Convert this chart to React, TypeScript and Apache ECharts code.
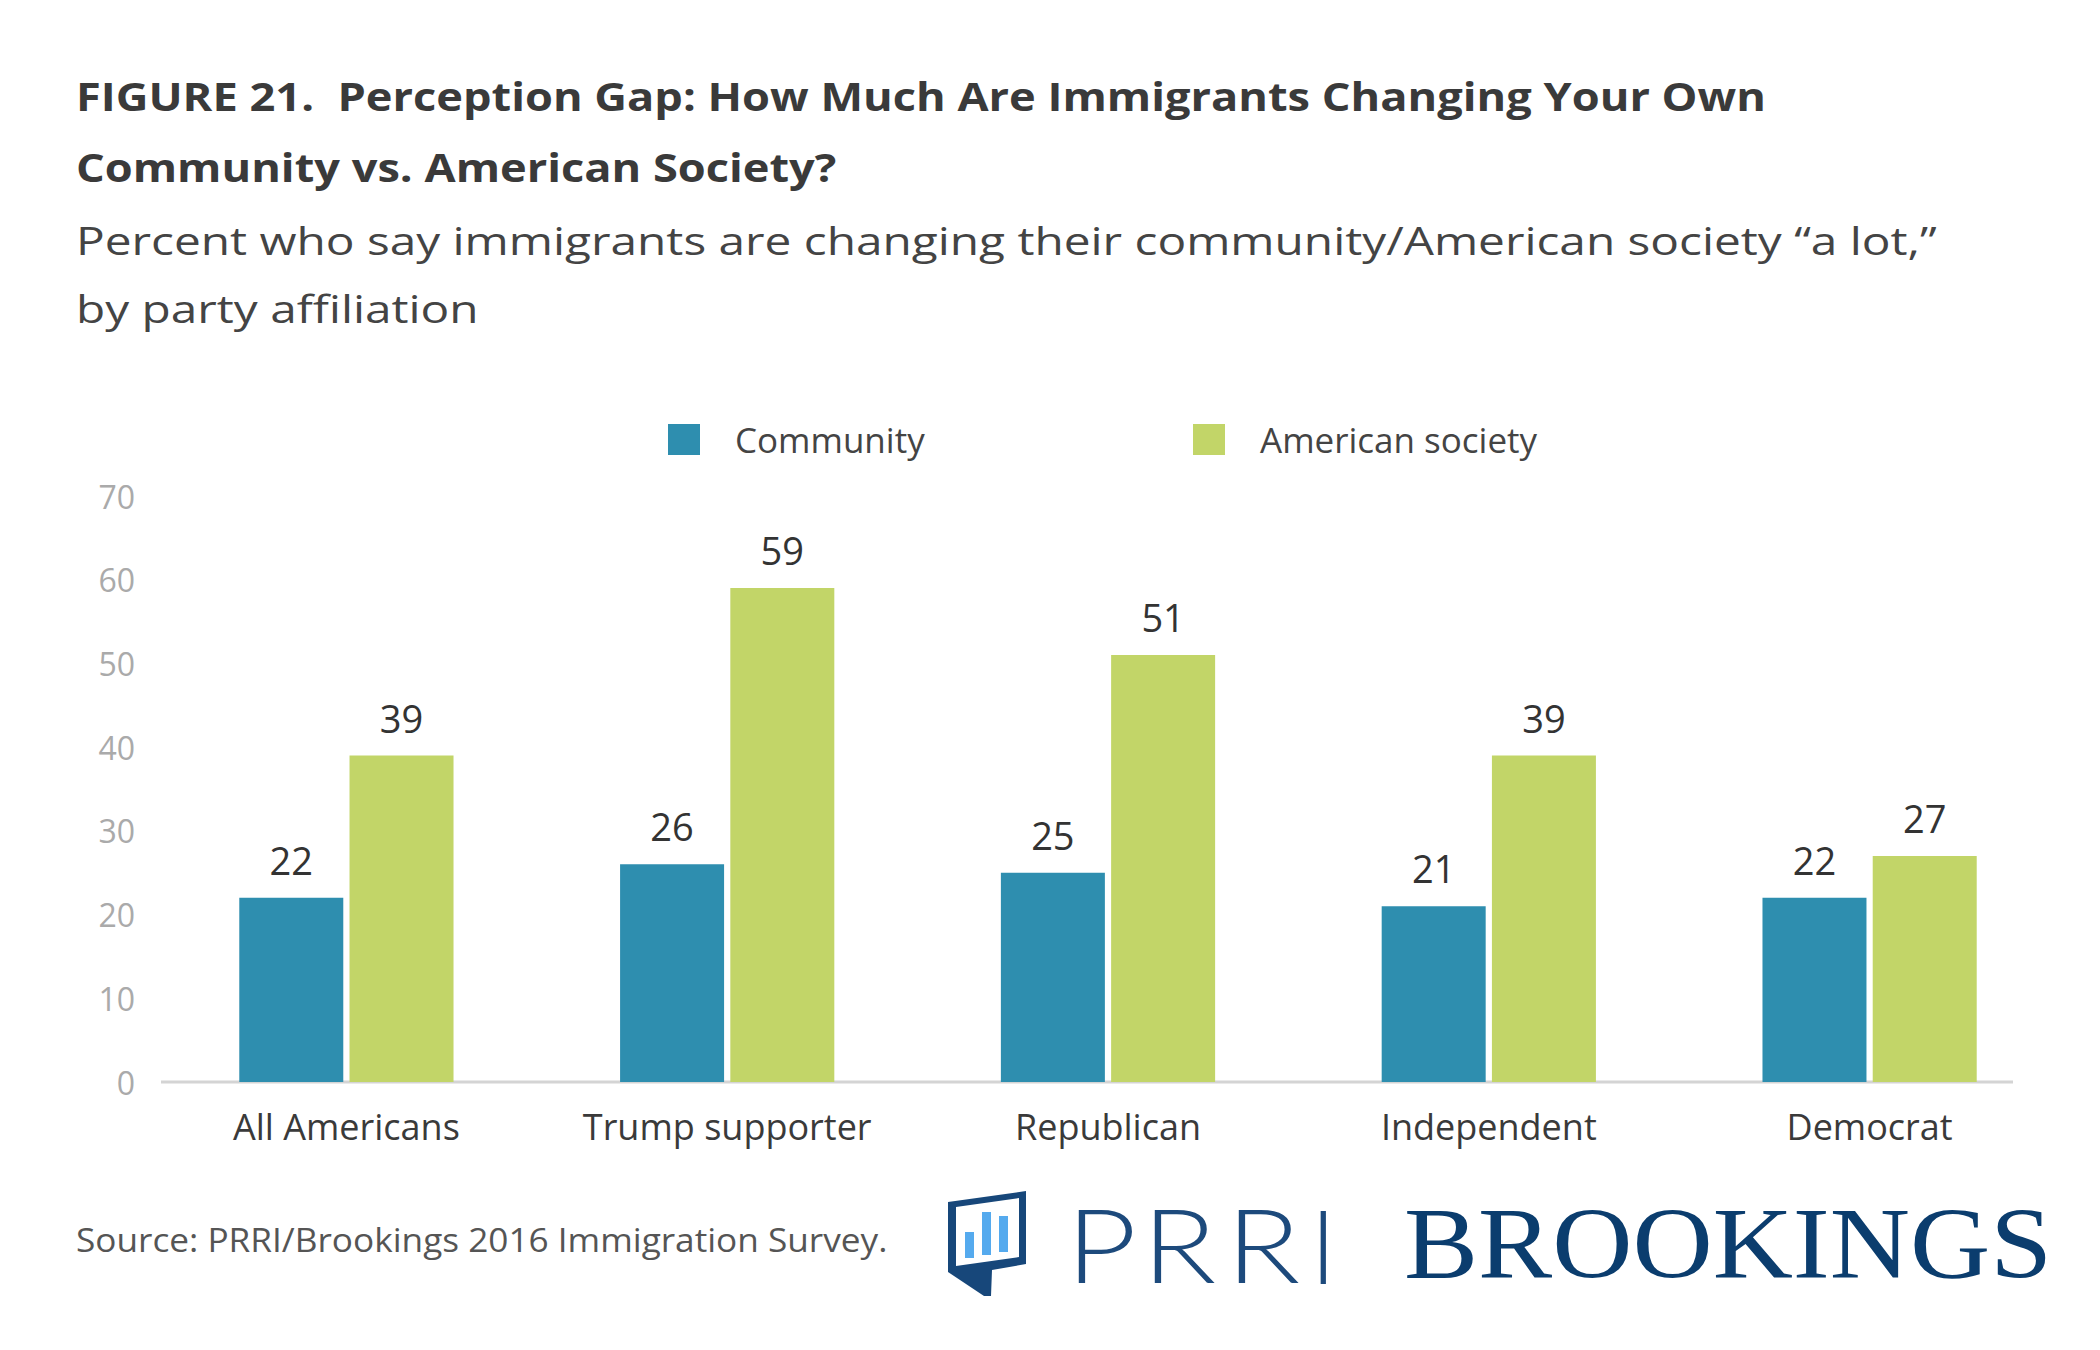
import React, { useEffect, useRef } from "react";
import * as echarts from "echarts";

const categories = ["All Americans", "Trump supporter", "Republican", "Independent", "Democrat"];
const seriesNames = ["Community", "American society"];
const communityValues = [22, 26, 25, 21, 22];
const societyValues = [39, 59, 51, 39, 27];
const yMin = 0;
const yMax = 70;
const yInterval = 10;

const titleLines = [
  "FIGURE 21.  Perception Gap: How Much Are Immigrants Changing Your Own",
  "Community vs. American Society?",
];
const subtitleLines = [
  "Percent who say immigrants are changing their community/American society \u201ca lot,\u201d",
  "by party affiliation",
];
const sourceText = "Source: PRRI/Brookings 2016 Immigration Survey.";
const prriLetters = ["P", "R", "R", "I"];

const COMMUNITY = "#2e8eaf";
const SOCIETY = "#c2d568";
const NAVY = "#0b3d6e";
const FONT = "'Open Sans', 'Noto Sans', sans-serif";

export default function App() {
  const ref = useRef<HTMLDivElement>(null);
  useEffect(() => {
    if (!ref.current) return;
    const chart = echarts.init(ref.current, null, { renderer: "svg" });
    const legendText = {
      fontSize: 35,
      color: "#444",
      fontFamily: FONT,
      padding: [0, 0, 0, 30],
    };
    const titleY = [96, 167];
    const subY = [240, 308];
    const prriX = [1066, 1142, 1226, 1310];
    const prriScale = [1.2, 1.2, 1.2, 1.0];
    chart.setOption({
      animation: false,
      backgroundColor: "#ffffff",
      legend: [
        {
          data: [seriesNames[0]],
          left: 668,
          top: 422,
          padding: 0,
          icon: "rect",
          itemWidth: 32,
          itemHeight: 31,
          textStyle: legendText,
        },
        {
          data: [seriesNames[1]],
          left: 1193,
          top: 422,
          padding: 0,
          icon: "rect",
          itemWidth: 32,
          itemHeight: 31,
          textStyle: legendText,
        },
      ],
      grid: { left: 156, right: 40, top: 496, bottom: 268 },
      xAxis: {
        type: "category",
        data: categories,
        axisLine: { show: false },
        axisTick: { show: false },
        axisLabel: {
          fontSize: 36,
          color: "#3a3a3a",
          fontFamily: FONT,
          margin: 26,
        },
      },
      yAxis: {
        type: "value",
        min: yMin,
        max: yMax,
        interval: yInterval,
        splitLine: { show: false },
        axisLine: { show: false },
        axisTick: { show: false },
        axisLabel: {
          fontSize: 32,
          color: "#aaaaaa",
          fontFamily: FONT,
          margin: 21,
        },
      },
      series: [
        {
          name: seriesNames[0],
          type: "bar",
          data: communityValues,
          barWidth: 104,
          barGap: "6%",
          itemStyle: { color: COMMUNITY },
          label: {
            show: true,
            position: "top",
            distance: 19,
            fontSize: 38,
            color: "#333",
            fontFamily: FONT,
          },
        },
        {
          name: seriesNames[1],
          type: "bar",
          data: societyValues,
          barWidth: 104,
          barGap: "6%",
          itemStyle: { color: SOCIETY },
          label: {
            show: true,
            position: "top",
            distance: 19,
            fontSize: 38,
            color: "#333",
            fontFamily: FONT,
          },
        },
      ],
      graphic: [
        ...titleLines.map((t, i) => ({
          type: "text",
          x: 76,
          y: titleY[i],
          scaleX: 1.13,
          style: {
            text: t,
            fontSize: 40,
            fontWeight: "bold",
            fill: "#3a3a3a",
            fontFamily: FONT,
            verticalAlign: "middle",
          },
        })),
        ...subtitleLines.map((t, i) => ({
          type: "text",
          x: 76,
          y: subY[i],
          scaleX: 1.225,
          style: {
            text: t,
            fontSize: 39,
            fill: "#444",
            fontFamily: FONT,
            verticalAlign: "middle",
          },
        })),
        {
          type: "line",
          z: 1,
          shape: { x1: 161, y1: 1082, x2: 2013, y2: 1082 },
          style: { stroke: "#d4d4d4", lineWidth: 3 },
        },
        {
          type: "text",
          x: 76,
          y: 1240,
          scaleX: 1.1,
          style: {
            text: sourceText,
            fontSize: 32,
            fill: "#555",
            fontFamily: FONT,
            verticalAlign: "middle",
          },
        },
        // PRRI icon
        {
          type: "polygon",
          shape: {
            points: [
              [948, 1202],
              [1026, 1191],
              [1026, 1264],
              [992, 1270],
              [991, 1296],
              [984, 1296],
              [948, 1272],
            ],
          },
          style: { fill: "#17477a" },
        },
        {
          type: "polygon",
          shape: {
            points: [
              [956, 1207],
              [1019, 1198],
              [1019, 1257],
              [956, 1266],
            ],
          },
          style: { fill: "#ffffff" },
        },
        { type: "rect", shape: { x: 965, y: 1232, width: 9, height: 26 }, style: { fill: "#55aaee" } },
        { type: "rect", shape: { x: 982, y: 1212, width: 9, height: 43 }, style: { fill: "#55aaee" } },
        { type: "rect", shape: { x: 999, y: 1216, width: 9, height: 36 }, style: { fill: "#55aaee" } },
        ...prriLetters.map((ch, i) => ({
          type: "text",
          x: prriX[i],
          y: 1244,
          scaleX: prriScale[i],
          style: {
            text: ch,
            fontSize: 102,
            fontWeight: 300,
            fill: "#1d4a7c",
            fontFamily: "Lato, 'Open Sans', sans-serif",
            verticalAlign: "middle",
          },
        })),
        {
          type: "text",
          x: 1404,
          y: 1244,
          scaleX: 1.1,
          style: {
            text: "BROOKINGS",
            fontSize: 101,
            fill: NAVY,
            fontFamily: "'Liberation Serif', 'DejaVu Serif', serif",
            verticalAlign: "middle",
          },
        },
      ],
    });
    return () => chart.dispose();
  }, []);
  return (
    <div
      ref={ref}
      style={{ position: "absolute", left: 0, top: 0, width: 2100, height: 1350 }}
    />
  );
}
